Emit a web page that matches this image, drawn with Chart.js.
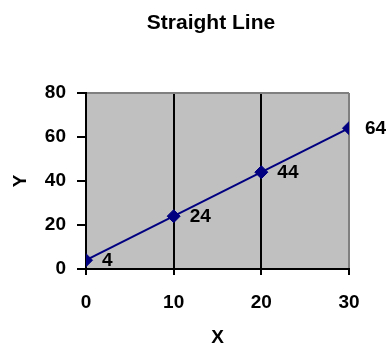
<!DOCTYPE html>
<html>
<head>
<meta charset="utf-8">
<script src="https://cdn.jsdelivr.net/npm/chart.js@4/dist/chart.umd.min.js"></script>
<style>
  html, body { margin: 0; padding: 0; background: #fff; }
  #wrap { width: 391px; height: 349px; }
</style>
</head>
<body>
<div id="wrap"><canvas id="c" width="391" height="349"></canvas></div>
<script>
// donnees
var xValues = [0, 10, 20, 30];
var yValues = [4, 24, 44, 64];
var xTicks = [0, 10, 20, 30];
var yTicks = [0, 20, 40, 60, 80];
var titre = 'Straight Line';

var police = "'Liberation Sans', Arial, sans-serif";

// fond gris de la zone de trace + titre
var fondGris = {
  id: 'fondGris',
  beforeDraw: function(chart) {
    var a = chart.chartArea;
    var ctx = chart.ctx;
    ctx.save();
    ctx.fillStyle = '#c0c0c0';
    ctx.fillRect(a.left, a.top, a.right - a.left, a.bottom - a.top);
    ctx.fillStyle = '#000';
    ctx.font = 'bold 21px ' + police;
    ctx.textAlign = 'center';
    ctx.textBaseline = 'middle';
    ctx.fillText(titre, 211, 23);
    ctx.restore();
  }
};

// etiquettes des points
var etiquettes = {
  id: 'etiquettes',
  afterDatasetsDraw: function(chart) {
    var ctx = chart.ctx;
    var meta = chart.getDatasetMeta(0);
    ctx.save();
    ctx.font = 'bold 19px ' + police;
    ctx.fillStyle = '#000';
    ctx.textAlign = 'left';
    ctx.textBaseline = 'middle';
    meta.data.forEach(function(pt, i) {
      ctx.fillText(String(yValues[i]), pt.x + 16, pt.y + 1);
    });
    ctx.restore();
  }
};

new Chart(document.getElementById('c'), {
  type: 'line',
  data: {
    datasets: [{
      data: xValues.map(function(x, i) { return {x: x, y: yValues[i]}; }),
      borderColor: '#000080',
      backgroundColor: '#000080',
      borderWidth: 2,
      pointStyle: 'rectRot',
      pointRadius: 6.5,
      pointBorderWidth: 1,
      pointBorderColor: '#000080',
      pointBackgroundColor: '#000080',
      tension: 0
    }]
  },
  options: {
    responsive: false,
    animation: false,
    layout: { padding: { left: 0, right: 42, top: 93, bottom: 0 } },
    plugins: {
      legend: { display: false },
      tooltip: { enabled: false },
      title: { display: false }
    },
    scales: {
      x: {
        type: 'linear',
        min: 0, max: 30,
        afterBuildTicks: function(s) { s.ticks = xTicks.map(function(v) { return {value: v}; }); },
        afterFit: function(s) { s.height = 80; },
        border: { display: true, color: '#000', width: 2 },
        grid: {
          drawOnChartArea: true,
          color: function(c) { return c.tick && c.tick.value === 30 ? '#808080' : '#000'; },
          lineWidth: 2,
          tickColor: '#000',
          tickLength: 6
        },
        ticks: {
          color: '#000',
          padding: 16,
          maxRotation: 0,
          font: { family: police, size: 19, weight: 'bold' }
        },
        title: {
          display: true,
          text: 'X',
          color: '#000',
          padding: { top: 0, bottom: 0 },
          font: { family: police, size: 19, weight: 'bold' }
        }
      },
      y: {
        type: 'linear',
        min: 0, max: 80,
        afterBuildTicks: function(s) { s.ticks = yTicks.map(function(v) { return {value: v}; }); },
        afterFit: function(s) { s.width = 86; },
        border: { display: true, color: '#000', width: 2 },
        grid: {
          drawOnChartArea: true,
          color: function(c) { return c.tick && c.tick.value === 80 ? '#808080' : 'rgba(0,0,0,0)'; },
          lineWidth: 2,
          tickColor: '#000',
          tickLength: 9
        },
        ticks: {
          color: '#000',
          padding: 11,
          font: { family: police, size: 19, weight: 'bold' }
        },
        title: {
          display: true,
          text: 'Y',
          color: '#000',
          padding: { top: 9, bottom: 0 },
          font: { family: police, size: 19, weight: 'bold' }
        }
      }
    }
  },
  plugins: [fondGris, etiquettes]
});
</script>
</body>
</html>
